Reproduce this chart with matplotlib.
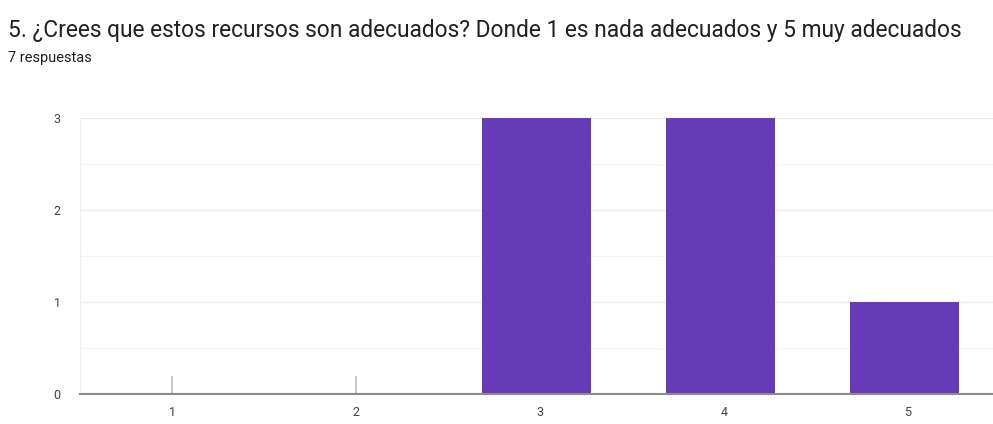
import numpy as np
import matplotlib.pyplot as plt

plt.rcParams['font.family'] = ['Roboto', 'DejaVu Sans']

categorias = ["1", "2", "3", "4", "5"]
respuestas = [0, 0, 3, 3, 1]
titulo = "5. ¿Crees que estos recursos son adecuados? Donde 1 es nada adecuados y 5 muy adecuados"
subtitulo = "7 respuestas"

fig = plt.figure(figsize=(9.93, 4.24), dpi=100)
ax = fig.add_axes([80 / 993, 30 / 424, 920 / 993, 276 / 424])

x = np.arange(len(categorias))
vals = np.array(respuestas)
ax.bar(x - 0.02, vals, width=0.59, color="#673ab7", zorder=3)

# marcas pequeñas para categorias sin respuestas
ceros = x[vals == 0]
ax.vlines(ceros, 0, 0.2, color="#bdbdbd", linewidth=1.2, zorder=3)

ax.set_xlim(-0.5, len(categorias) - 0.5)
ax.set_ylim(0, 3)
ax.set_yticks([0, 1, 2, 3])
ax.set_yticks([0.5, 1.5, 2.5], minor=True)
ax.set_xticks(x)
ax.set_xticklabels(categorias)
ax.grid(axis="y", which="major", color="#ececec", linewidth=1, zorder=0)
ax.grid(axis="y", which="minor", color="#f5f5f5", linewidth=1, zorder=0)
ax.tick_params(axis="both", which="both", length=0, labelsize=9, colors="#444444")
ax.tick_params(axis="y", pad=14)
ax.tick_params(axis="x", pad=9)

for s in ["top", "right"]:
    ax.spines[s].set_visible(False)
ax.spines["left"].set_color("#eeeeee")
ax.spines["bottom"].set_color("#8a8a8a")
ax.spines["bottom"].set_linewidth(1.5)
ax.spines["bottom"].set_zorder(4)

fig.text(8 / 993, 1 - 30 / 424, titulo, fontsize=16.4, color="#202124", va="center")
fig.text(8 / 993, 1 - 58 / 424, subtitulo, fontsize=10.5, color="#202124", va="center")

fig.savefig("out.png", dpi=100)
